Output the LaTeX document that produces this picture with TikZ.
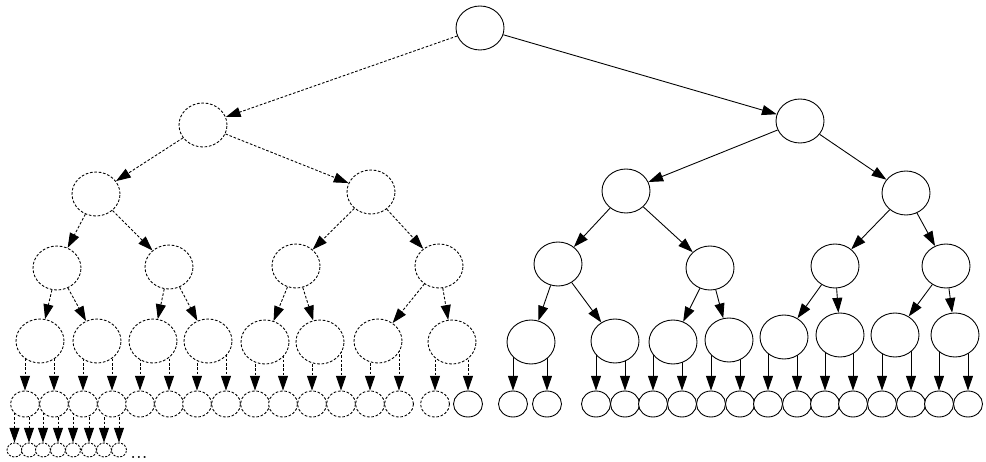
\documentclass[tikz,border=0pt]{standalone}
\usetikzlibrary{shapes.geometric, arrows.meta, backgrounds}

\begin{document}
\begin{tikzpicture}[x=0.02cm, y=-0.02cm,
    bigNode/.style={ellipse, draw, fill=white, line width=0.5pt, inner sep=0pt, minimum width=0.96cm, minimum height=0.88cm},
    bigDashNode/.style={bigNode, dash pattern=on 1.5pt off 1pt},
    midNode/.style={ellipse, draw, fill=white, line width=0.5pt, inner sep=0pt, minimum width=0.58cm, minimum height=0.52cm},
    midDashNode/.style={midNode, dash pattern=on 1.5pt off 1pt},
    smallDashNode/.style={ellipse, draw, fill=white, line width=0.5pt, inner sep=0pt, minimum width=0.30cm, minimum height=0.28cm, dash pattern=on 1.2pt off 0.8pt},
    edgeStyle/.style={line width=0.5pt, -{Triangle[length=8.4pt, width=5.7pt]}},
    dashEdgeStyle/.style={edgeStyle, dash pattern=on 1.5pt off 1pt}]
    \useasboundingbox (0, 0) rectangle (986, 462);

    \node[bigNode]     (root)  at (480,  28) {};

    \node[bigDashNode] (L1_0)  at (203, 125) {};
    \node[bigNode]     (L1_1)  at (800, 121) {};

    \node[bigDashNode] (L2_0)  at ( 96, 194) {};
    \node[bigDashNode] (L2_1)  at (371, 192) {};
    \node[bigNode]     (L2_2)  at (626, 191) {};
    \node[bigNode]     (L2_3)  at (906, 193) {};

    \node[bigDashNode] (L3_0)  at ( 57, 268) {};
    \node[bigDashNode] (L3_1)  at (169, 267) {};
    \node[bigDashNode] (L3_2)  at (296, 266) {};
    \node[bigDashNode] (L3_3)  at (439, 266) {};
    \node[bigNode]     (L3_4)  at (558, 264) {};
    \node[bigNode]     (L3_5)  at (710, 268) {};
    \node[bigNode]     (L3_6)  at (835, 266) {};
    \node[bigNode]     (L3_7)  at (946, 266) {};

    \node[bigDashNode] (L4_0)  at ( 40, 341) {};
    \node[bigDashNode] (L4_1)  at ( 97, 341) {};
    \node[bigDashNode] (L4_2)  at (153, 341) {};
    \node[bigDashNode] (L4_3)  at (208, 341) {};
    \node[bigDashNode] (L4_4)  at (265, 342) {};
    \node[bigDashNode] (L4_5)  at (320, 342) {};
    \node[bigDashNode] (L4_6)  at (378, 341) {};
    \node[bigDashNode] (L4_7)  at (452, 342) {};
    \node[bigNode]     (L4_8)  at (531, 342) {};
    \node[bigNode]     (L4_9)  at (615, 341) {};
    \node[bigNode]     (L4_10) at (673, 342) {};
    \node[bigNode]     (L4_11) at (729, 340) {};
    \node[bigNode]     (L4_12) at (784, 337) {};
    \node[bigNode]     (L4_13) at (840, 335) {};
    \node[bigNode]     (L4_14) at (895, 335) {};
    \node[bigNode]     (L4_15) at (955, 335) {};

    \node[midDashNode] (L5_0)  at ( 25, 404) {};
    \node[midDashNode] (L5_1)  at ( 54, 404) {};
    \node[midDashNode] (L5_2)  at ( 83, 404) {};
    \node[midDashNode] (L5_3)  at (112, 404) {};
    \node[midDashNode] (L5_4)  at (140, 404) {};
    \node[midDashNode] (L5_5)  at (169, 404) {};
    \node[midDashNode] (L5_6)  at (197, 404) {};
    \node[midDashNode] (L5_7)  at (226, 404) {};
    \node[midDashNode] (L5_8)  at (255, 404) {};
    \node[midDashNode] (L5_9)  at (283, 404) {};
    \node[midDashNode] (L5_10) at (312, 404) {};
    \node[midDashNode] (L5_11) at (341, 404) {};
    \node[midDashNode] (L5_12) at (370, 404) {};
    \node[midDashNode] (L5_13) at (399, 404) {};
    \node[midDashNode] (L5_14) at (435, 404) {};
    \node[midNode]     (L5_15) at (468, 404) {};
    \node[midNode]     (L5_16) at (513, 404) {};
    \node[midNode]     (L5_17) at (547, 404) {};
    \node[midNode]     (L5_18) at (596, 404) {};
    \node[midNode]     (L5_19) at (625, 404) {};
    \node[midNode]     (L5_20) at (653, 404) {};
    \node[midNode]     (L5_21) at (682, 404) {};
    \node[midNode]     (L5_22) at (711, 404) {};
    \node[midNode]     (L5_23) at (740, 404) {};
    \node[midNode]     (L5_24) at (768, 404) {};
    \node[midNode]     (L5_25) at (797, 404) {};
    \node[midNode]     (L5_26) at (825, 404) {};
    \node[midNode]     (L5_27) at (853, 404) {};
    \node[midNode]     (L5_28) at (882, 404) {};
    \node[midNode]     (L5_29) at (911, 404) {};
    \node[midNode]     (L5_30) at (939, 404) {};
    \node[midNode]     (L5_31) at (968, 404) {};

    \node[smallDashNode] (L6_0) at ( 14.5, 450) {};
    \node[smallDashNode] (L6_1) at ( 29,   450) {};
    \node[smallDashNode] (L6_2) at ( 43,   450) {};
    \node[smallDashNode] (L6_3) at ( 58,   450) {};
    \node[smallDashNode] (L6_4) at ( 73,   450) {};
    \node[smallDashNode] (L6_5) at ( 89,   450) {};
    \node[smallDashNode] (L6_6) at (104,   450) {};
    \node[smallDashNode] (L6_7) at (119,   450) {};
    \node[inner sep=0pt, anchor=base west, font=\large] (dots) at (130, 458) {...};

    \begin{scope}[on background layer]
        \draw[dashEdgeStyle] (root) -- (L1_0);
        \draw[edgeStyle]     (root) -- (L1_1);

        \draw[dashEdgeStyle] (L1_0) -- (L2_0);
        \draw[dashEdgeStyle] (L1_0) -- (L2_1);
        \draw[edgeStyle]     (L1_1) -- (L2_2);
        \draw[edgeStyle]     (L1_1) -- (L2_3);

        \draw[dashEdgeStyle] (L2_0) -- (L3_0);
        \draw[dashEdgeStyle] (L2_0) -- (L3_1);
        \draw[dashEdgeStyle] (L2_1) -- (L3_2);
        \draw[dashEdgeStyle] (L2_1) -- (L3_3);
        \draw[edgeStyle]     (L2_2) -- (L3_4);
        \draw[edgeStyle]     (L2_2) -- (L3_5);
        \draw[edgeStyle]     (L2_3) -- (L3_6);
        \draw[edgeStyle]     (L2_3) -- (L3_7);

        \draw[dashEdgeStyle] (L3_0) -- (L4_0);
        \draw[dashEdgeStyle] (L3_0) -- (L4_1);
        \draw[dashEdgeStyle] (L3_1) -- (L4_2);
        \draw[dashEdgeStyle] (L3_1) -- (L4_3);
        \draw[dashEdgeStyle] (L3_2) -- (L4_4);
        \draw[dashEdgeStyle] (L3_2) -- (L4_5);
        \draw[dashEdgeStyle] (L3_3) -- (L4_6);
        \draw[dashEdgeStyle] (L3_3) -- (L4_7);
        \draw[edgeStyle]     (L3_4) -- (L4_8);
        \draw[edgeStyle]     (L3_4) -- (L4_9);
        \draw[edgeStyle]     (L3_5) -- (L4_10);
        \draw[edgeStyle]     (L3_5) -- (L4_11);
        \draw[edgeStyle]     (L3_6) -- (L4_12);
        \draw[edgeStyle]     (L3_6) -- (L4_13);
        \draw[edgeStyle]     (L3_7) -- (L4_14);
        \draw[edgeStyle]     (L3_7) -- (L4_15);

        \draw[dashEdgeStyle] (L5_0  |- L4_0)  -- (L5_0);
        \draw[dashEdgeStyle] (L5_1  |- L4_0)  -- (L5_1);
        \draw[dashEdgeStyle] (L5_2  |- L4_1)  -- (L5_2);
        \draw[dashEdgeStyle] (L5_3  |- L4_1)  -- (L5_3);
        \draw[dashEdgeStyle] (L5_4  |- L4_2)  -- (L5_4);
        \draw[dashEdgeStyle] (L5_5  |- L4_2)  -- (L5_5);
        \draw[dashEdgeStyle] (L5_6  |- L4_3)  -- (L5_6);
        \draw[dashEdgeStyle] (L5_7  |- L4_3)  -- (L5_7);
        \draw[dashEdgeStyle] (L5_8  |- L4_4)  -- (L5_8);
        \draw[dashEdgeStyle] (L5_9  |- L4_4)  -- (L5_9);
        \draw[dashEdgeStyle] (L5_10 |- L4_5)  -- (L5_10);
        \draw[dashEdgeStyle] (L5_11 |- L4_5)  -- (L5_11);
        \draw[dashEdgeStyle] (L5_12 |- L4_6)  -- (L5_12);
        \draw[dashEdgeStyle] (L5_13 |- L4_6)  -- (L5_13);
        \draw[dashEdgeStyle] (L5_14 |- L4_7)  -- (L5_14);
        \draw[dashEdgeStyle] (L5_15 |- L4_7)  -- (L5_15);
        \draw[edgeStyle]     (L5_16 |- L4_8)  -- (L5_16);
        \draw[edgeStyle]     (L5_17 |- L4_8)  -- (L5_17);
        \draw[edgeStyle]     (L5_18 |- L4_9)  -- (L5_18);
        \draw[edgeStyle]     (L5_19 |- L4_9)  -- (L5_19);
        \draw[edgeStyle]     (L5_20 |- L4_10) -- (L5_20);
        \draw[edgeStyle]     (L5_21 |- L4_10) -- (L5_21);
        \draw[edgeStyle]     (L5_22 |- L4_11) -- (L5_22);
        \draw[edgeStyle]     (L5_23 |- L4_11) -- (L5_23);
        \draw[edgeStyle]     (L5_24 |- L4_12) -- (L5_24);
        \draw[edgeStyle]     (L5_25 |- L4_12) -- (L5_25);
        \draw[edgeStyle]     (L5_26 |- L4_13) -- (L5_26);
        \draw[edgeStyle]     (L5_27 |- L4_13) -- (L5_27);
        \draw[edgeStyle]     (L5_28 |- L4_14) -- (L5_28);
        \draw[edgeStyle]     (L5_29 |- L4_14) -- (L5_29);
        \draw[edgeStyle]     (L5_30 |- L4_15) -- (L5_30);
        \draw[edgeStyle]     (L5_31 |- L4_15) -- (L5_31);

        \draw[dashEdgeStyle] (L6_0 |- L5_0) -- (L6_0);
        \draw[dashEdgeStyle] (L6_1 |- L5_0) -- (L6_1);
        \draw[dashEdgeStyle] (L6_2 |- L5_1) -- (L6_2);
        \draw[dashEdgeStyle] (L6_3 |- L5_1) -- (L6_3);
        \draw[dashEdgeStyle] (L6_4 |- L5_2) -- (L6_4);
        \draw[dashEdgeStyle] (L6_5 |- L5_2) -- (L6_5);
        \draw[dashEdgeStyle] (L6_6 |- L5_3) -- (L6_6);
        \draw[dashEdgeStyle] (L6_7 |- L5_3) -- (L6_7);
    \end{scope}
\end{tikzpicture}
\end{document}
